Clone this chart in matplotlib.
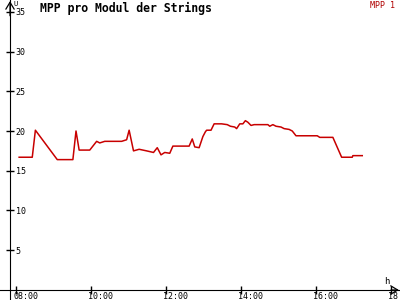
import matplotlib
matplotlib.use("Agg")
import matplotlib.pyplot as plt
import matplotlib.transforms as mtransforms

# MPP 1 readings (time of day, volts)
times = ["08:05", "08:26", "08:31", "09:06", "09:31", "09:36", "09:41", "09:58",
         "10:09", "10:14", "10:22", "10:49", "10:57", "11:01", "11:08", "11:17",
         "11:29", "11:40", "11:46", "11:52", "11:58", "12:06", "12:11", "12:37",
         "12:42", "12:46", "12:53", "12:59", "13:03", "13:05", "13:12", "13:17",
         "13:29", "13:38", "13:43", "13:50", "13:53", "13:58", "14:03", "14:07",
         "14:11", "14:16", "14:21", "14:43", "14:46", "14:51", "14:56", "15:04",
         "15:09", "15:17", "15:22", "15:25", "15:28", "16:02", "16:06", "16:27",
         "16:41", "16:58", "16:59", "17:14"]
volts = [16.7, 16.7, 20.1, 16.4, 16.4, 20.0, 17.6, 17.6,
         18.7, 18.5, 18.7, 18.7, 18.9, 20.1, 17.5, 17.7,
         17.5, 17.3, 17.9, 17.0, 17.3, 17.2, 18.1, 18.1,
         19.0, 18.0, 17.9, 19.3, 19.9, 20.1, 20.1, 20.9,
         20.9, 20.8, 20.6, 20.5, 20.3, 20.9, 20.9, 21.3,
         21.1, 20.7, 20.8, 20.8, 20.6, 20.8, 20.6, 20.5,
         20.3, 20.2, 20.0, 19.7, 19.4, 19.4, 19.2, 19.2,
         16.7, 16.7, 16.9, 16.9]

xticks = [8, 10, 12, 14, 16, 18]
xlabels = ["08:00", "10:00", "12:00", "14:00", "16:00", "18:"]
yticks = [5, 10, 15, 20, 25, 30, 35]

hours = [int(t[:2]) + int(t[3:]) / 60 for t in times]

x0 = 7.84  # where the y axis sits
fig = plt.figure(figsize=(4, 3), dpi=100)
ax = fig.add_axes([0, 0, 1, 1])
ax.set_xlim(7.573, 18.24)
ax.set_ylim(-1.26, 36.48)

ax.plot(hours, volts, color="#c80000", lw=1.1)

for s in ["left", "top"]:
    ax.spines[s].set_visible(False)
ax.spines["right"].set_position(("data", x0))
ax.spines["bottom"].set_position(("data", 0))
ax.yaxis.set_ticks_position("right")
ax.xaxis.set_ticks_position("bottom")

mono = "DejaVu Sans Mono"
ax.set_yticks(yticks)
ax.set_yticklabels([str(v) for v in yticks], family=mono, fontsize=6)
ax.tick_params(axis="y", direction="inout", length=6, width=1, pad=1)
ax.set_xticks(xticks)
ax.set_xticklabels(xlabels, family=mono, fontsize=6, ha="left")
ax.tick_params(axis="x", direction="inout", length=6, width=1, pad=0)
off = mtransforms.ScaledTranslation(-3 / 100, 2 / 100, fig.dpi_scale_trans)
for lab in ax.get_xticklabels():
    lab.set_transform(lab.get_transform() + off)

# open arrow heads at the axis ends
head = "->,head_length=0.5,head_width=0.3"
ax.annotate("", xy=(18.21, 0), xytext=(18.0, 0),
            arrowprops=dict(arrowstyle=head, lw=0.9, color="black", shrinkA=0, shrinkB=0))
ax.annotate("", xy=(x0, 36.35), xytext=(x0, 34.5),
            arrowprops=dict(arrowstyle=head, lw=0.9, color="black", shrinkA=0, shrinkB=0))

fig.text(13 / 400, 1 - 1 / 300, "U", family=mono, fontsize=5, ha="left", va="top")
fig.text(387 / 400, 1 - 282 / 300, "h", family=mono, fontsize=6.5, ha="center", va="center")
fig.text(40 / 400, 1 - 8 / 300, "MPP pro Modul der Strings", family=mono,
         fontsize=8.3, fontweight="bold", ha="left", va="center")
fig.text(395 / 400, 1 - 1 / 300, "MPP 1", family=mono, fontsize=6,
         color="#b00000", ha="right", va="top")

fig.savefig("out.png", dpi=100)
